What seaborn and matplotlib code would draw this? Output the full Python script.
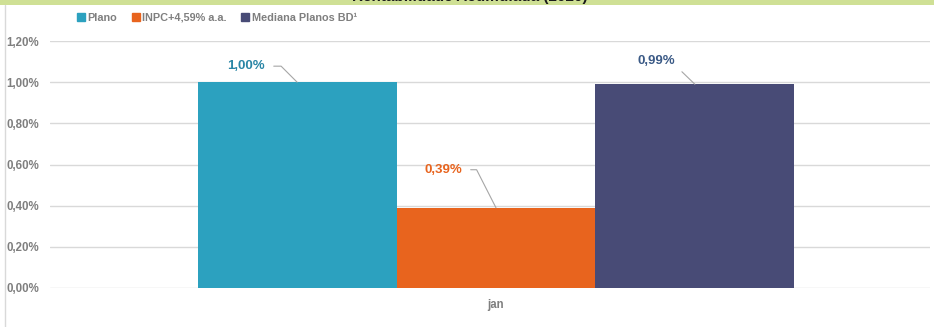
import matplotlib
matplotlib.use("Agg")
import matplotlib.pyplot as plt
import seaborn as sns
import pandas as pd
from matplotlib.patches import Rectangle
from matplotlib.lines import Line2D

# ---- data ----
categories = ["jan"]
series = ["Plano", "INPC+4,59% a.a.", "Mediana Planos BD¹"]
values = [1.00, 0.39, 0.99]
value_labels = ["1,00%", "0,39%", "0,99%"]
yticks = [0.0, 0.2, 0.4, 0.6, 0.8, 1.0, 1.2]
ytick_labels = ["0,00%", "0,20%", "0,40%", "0,60%", "0,80%", "1,00%", "1,20%"]
title = "Rentabilidade Acumulada (2020)"

colors = ["#2ca1bf", "#e8641e", "#484b76"]
label_colors = ["#2a86a6", "#e8641e", "#3b5a86"]

sns.set_theme(style="white")
plt.rcParams["font.family"] = ["Liberation Sans Narrow", "Liberation Sans", "DejaVu Sans"]

df = pd.DataFrame({"mes": categories * len(series), "serie": series, "valor": values})

fig = plt.figure(figsize=(9.34, 3.27), dpi=100)
ax = fig.add_axes([50 / 934, 1 - 288 / 327, 880 / 934, (288 - 41) / 327])

sns.barplot(data=df, x="mes", y="valor", hue="serie", palette=colors,
            width=0.8, saturation=1, ax=ax, legend=False, edgecolor="none")

ax.set_ylim(0, 1.2)
ax.set_xlim(-0.598, 0.582)
ax.set_yticks(yticks)
ax.set_yticklabels(ytick_labels, color="#7f7f7f", fontsize=8.3, fontweight="bold")
ax.tick_params(axis="x", colors="#7f7f7f", labelsize=8.3, length=0, pad=8)
ax.tick_params(axis="y", length=0, pad=8)
for t in ax.get_xticklabels():
    t.set_fontweight("bold")
ax.set_xlabel("")
ax.set_ylabel("")
ax.yaxis.grid(True, color="#d9d9d9", lw=1)
ax.set_axisbelow(True)
for s in ax.spines.values():
    s.set_visible(False)

# data labels with leader lines
offsets = [(-51, 16), (-53, 38), (-39, 23)]
angles = [135, 117, 136]
for patch, lab, col, off, ang in zip(ax.patches, value_labels, label_colors, offsets, angles):
    xc = patch.get_x() + patch.get_width() / 2
    h = patch.get_height()
    ax.annotate(lab, xy=(xc, h), xytext=off, textcoords="offset pixels",
                ha="center", va="center", color=col, fontsize=9.5, fontweight="bold",
                arrowprops=dict(arrowstyle="-", color="#a6a6a6", lw=0.8,
                                relpos=(1, 0.5), shrinkA=4, shrinkB=0,
                                connectionstyle=f"angle,angleA=0,angleB={ang},rad=0"))

# legend
handles = [Line2D([0], [0], marker="s", linestyle="", markersize=5.5,
                  markerfacecolor=c, markeredgecolor=c) for c in colors]
leg = fig.legend(handles, series, loc="center left", bbox_to_anchor=(66 / 934, 1 - 18 / 327),
                 ncol=3, frameon=False, handletextpad=0.1, columnspacing=1.2,
                 handlelength=1.0, prop={"size": 7.8, "weight": "bold"})
for t in leg.get_texts():
    t.set_color("#7f7f7f")

# frame: green title band and left border
fig.patches.append(Rectangle((0, 1 - 5 / 327), 1, 5 / 327, transform=fig.transFigure,
                             facecolor="#cfe095", edgecolor="none", zorder=0))
fig.lines.append(Line2D([5 / 934, 5 / 934], [0, 1 - 5 / 327], transform=fig.transFigure,
                        color="#d9d9d9", lw=1))
fig.text(470 / 934, 1 - 4 / 327, title, ha="center", va="bottom", fontsize=11,
         fontweight="bold", color="#1a1a1a")

fig.savefig("out.png", dpi=100)
